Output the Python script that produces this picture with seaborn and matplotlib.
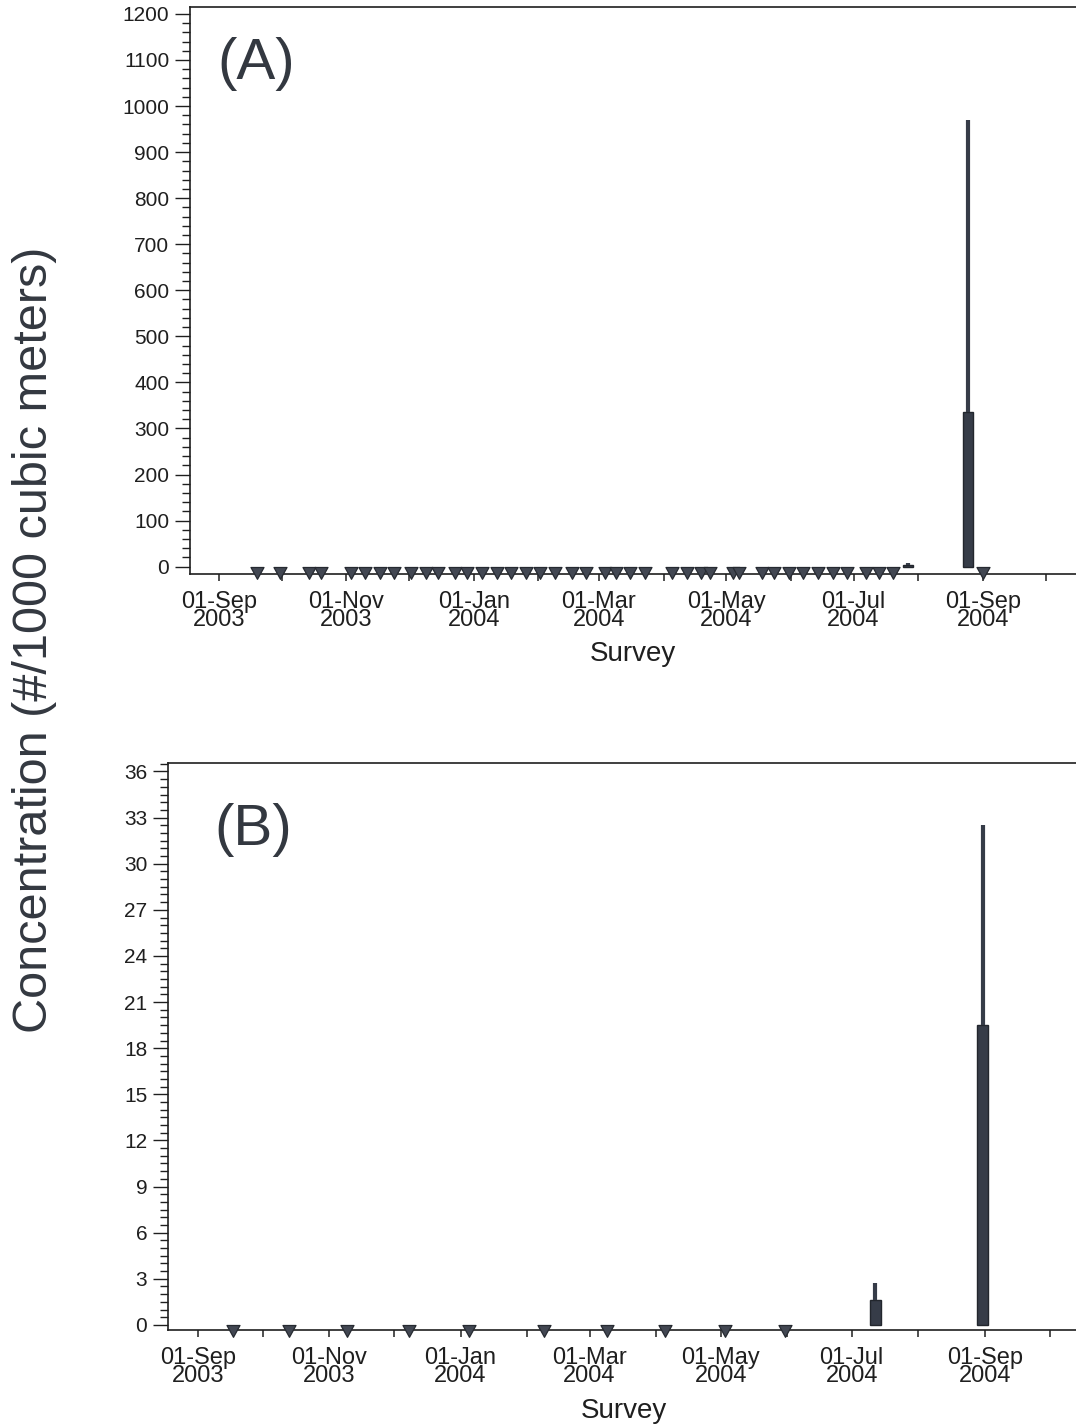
import numpy as np
import pandas as pd
import matplotlib
matplotlib.use("Agg")
import matplotlib.pyplot as plt
import matplotlib.dates as mdates
from matplotlib.path import Path
from matplotlib.markers import MarkerStyle
from matplotlib.ticker import MultipleLocator
import seaborn as sns

# ---------------- data ----------------
# Panel A: surveys with no detections (drawn as triangles at zero)
a_nd_dates = ["2003-09-19", "2003-09-30", "2003-10-14", "2003-10-20", "2003-11-03",
              "2003-11-10", "2003-11-17", "2003-11-24", "2003-12-02", "2003-12-09",
              "2003-12-15", "2003-12-23", "2003-12-29", "2004-01-05", "2004-01-12",
              "2004-01-19", "2004-01-26", "2004-02-02", "2004-02-09", "2004-02-17",
              "2004-02-24", "2004-03-04", "2004-03-09", "2004-03-16", "2004-03-23",
              "2004-04-05", "2004-04-12", "2004-04-19", "2004-04-23", "2004-05-04",
              "2004-05-07", "2004-05-18", "2004-05-24", "2004-05-31", "2004-06-07",
              "2004-06-14", "2004-06-21", "2004-06-28", "2004-07-07", "2004-07-13",
              "2004-07-20", "2004-09-01"]
a_nd_values = [0, 0, 0, 0, 0, 0, 0, 0, 0, 0, 0, 0, 0, 0, 0, 0, 0, 0, 0, 0, 0,
               0, 0, 0, 0, 0, 0, 0, 0, 0, 0, 0, 0, 0, 0, 0, 0, 0, 0, 0, 0, 0]
# Panel A: surveys with detections (box summaries)
a_box_dates = ["2004-07-27", "2004-08-25"]
a_box_low = [0, 0]
a_box_q1 = [0, 0]
a_box_med = [1, 120]
a_box_q3 = [3, 336]
a_box_high = [7, 970]

# Panel B
b_nd_dates = ["2003-09-17", "2003-10-13", "2003-11-09", "2003-12-08", "2004-01-05",
              "2004-02-09", "2004-03-09", "2004-04-05", "2004-05-03", "2004-05-31"]
b_nd_values = [0, 0, 0, 0, 0, 0, 0, 0, 0, 0]
b_box_dates = ["2004-07-12", "2004-08-31"]
b_box_low = [0, 0]
b_box_q1 = [0, 0]
b_box_med = [0.8, 8.0]
b_box_q3 = [1.6, 19.5]
b_box_high = [2.7, 32.5]

tick_dates = ["2003-09-01", "2003-10-01", "2003-11-01", "2003-12-01", "2004-01-01",
              "2004-02-01", "2004-03-01", "2004-04-01", "2004-05-01", "2004-06-01",
              "2004-07-01", "2004-08-01", "2004-09-01", "2004-10-01"]
tick_labels = ["01-Sep\n2003", "", "01-Nov\n2003", "", "01-Jan\n2004", "",
               "01-Mar\n2004", "", "01-May\n2004", "", "01-Jul\n2004", "",
               "01-Sep\n2004", ""]

# ---------------- style ----------------
sns.set_theme(style="ticks")
plt.rcParams["font.family"] = ["Liberation Sans", "DejaVu Sans"]
TXT = "#1f1f1f"
BOXC = "#363c48"
TRI = "#424752"

W, H = 1076, 1426
fig = plt.figure(figsize=(W / 100, H / 100), dpi=100)

tri_path = Path([(-0.55, 0.0), (0.55, 0.0), (0.0, -1.0), (0.0, 0.0)],
                [Path.MOVETO, Path.LINETO, Path.LINETO, Path.CLOSEPOLY])
tri_marker = MarkerStyle(tri_path)


def draw_panel(ax, nd_dates, nd_vals, bdates, blow, bq1, bmed, bq3, bhigh,
               widths_days, origin_px, px_per_day, left_px, ylim, major, minor):
    d0 = mdates.date2num(pd.Timestamp("2003-09-01"))
    ax.set_xlim(d0 - (origin_px - left_px) / px_per_day,
                d0 + (W - origin_px) / px_per_day)
    ax.set_ylim(*ylim)

    df = pd.DataFrame({"date": pd.to_datetime(nd_dates), "value": nd_vals})
    sns.scatterplot(data=df, x="date", y="value", ax=ax, marker=tri_marker,
                    s=290, color=TRI, edgecolor="#262a31", linewidth=0.9,
                    zorder=4, clip_on=False, legend=False)

    stats = []
    for lo, q1, md, q3, hi in zip(blow, bq1, bmed, bq3, bhigh):
        stats.append(dict(whislo=lo, q1=q1, med=md, q3=q3, whishi=hi, fliers=[]))
    pos = [mdates.date2num(pd.Timestamp(d)) for d in bdates]
    ax.bxp(stats, positions=pos, widths=widths_days, patch_artist=True,
           showcaps=False, showfliers=False, manage_ticks=False,
           boxprops=dict(facecolor=BOXC, edgecolor="#22262d", linewidth=1.0),
           whiskerprops=dict(color=BOXC, linewidth=3.0, solid_capstyle="butt"),
           medianprops=dict(color=BOXC, linewidth=0.0))

    ax.set_xticks([mdates.date2num(pd.Timestamp(d)) for d in tick_dates])
    ax.set_xticklabels(tick_labels)
    for t in ax.get_xticklabels():
        t.set_linespacing(0.76)
    ax.tick_params(axis="x", direction="out", length=5, width=1.1, pad=7,
                   labelsize=17, colors=TXT)
    ax.yaxis.set_major_locator(MultipleLocator(major))
    ax.yaxis.set_minor_locator(MultipleLocator(minor))
    ax.tick_params(axis="y", which="major", direction="out", length=11, width=1.0,
                   pad=4, labelsize=15, colors=TXT)
    ax.tick_params(axis="y", which="minor", direction="out", length=6, width=1.0,
                   colors=TXT)
    for s in ["left", "bottom", "top"]:
        ax.spines[s].set_color("#1f1f1f")
        ax.spines[s].set_linewidth(1.2)
    ax.spines["right"].set_visible(False)
    ax.set_xlabel("")
    ax.set_ylabel("")
    ax.set_facecolor("white")


# Panel A
axA = fig.add_axes([190 / W, (H - 574) / H, (W - 190) / W, 567 / H])
draw_panel(axA, a_nd_dates, a_nd_values, a_box_dates, a_box_low, a_box_q1,
           a_box_med, a_box_q3, a_box_high, 4.8, 219, 2.0874, 190,
           (-16, 1215), 100, 20)
axA.set_yticks(np.arange(0, 1201, 100))

# Panel B
axB = fig.add_axes([168 / W, (H - 1330) / H, (W - 168) / W, 567 / H])
draw_panel(axB, b_nd_dates, b_nd_values, b_box_dates, b_box_low, b_box_q1,
           b_box_med, b_box_q3, b_box_high, 5.0, 198.3, 2.1495, 168,
           (-0.33, 36.55), 3, 0.5)
axB.set_yticks(np.arange(0, 37, 3))

# Texts
fig.text(633 / W, 1 - 654 / H, "Survey", fontsize=20, color=TXT,
         ha="center", va="center")
fig.text(624 / W, 1 - 1411 / H, "Survey", fontsize=20, color=TXT,
         ha="center", va="center")
fig.text(256 / W, 1 - 64 / H, "(A)", fontsize=42, color="#333840",
         ha="center", va="center")
fig.text(253 / W, 1 - 830 / H, "(B)", fontsize=42, color="#333840",
         ha="center", va="center")
fig.text(35 / W, 1 - 640 / H, "Concentration (#/1000 cubic meters)", fontsize=35,
         color="#333840", rotation=90, ha="center", va="center")

fig.savefig("out.png", dpi=100, facecolor="white")
